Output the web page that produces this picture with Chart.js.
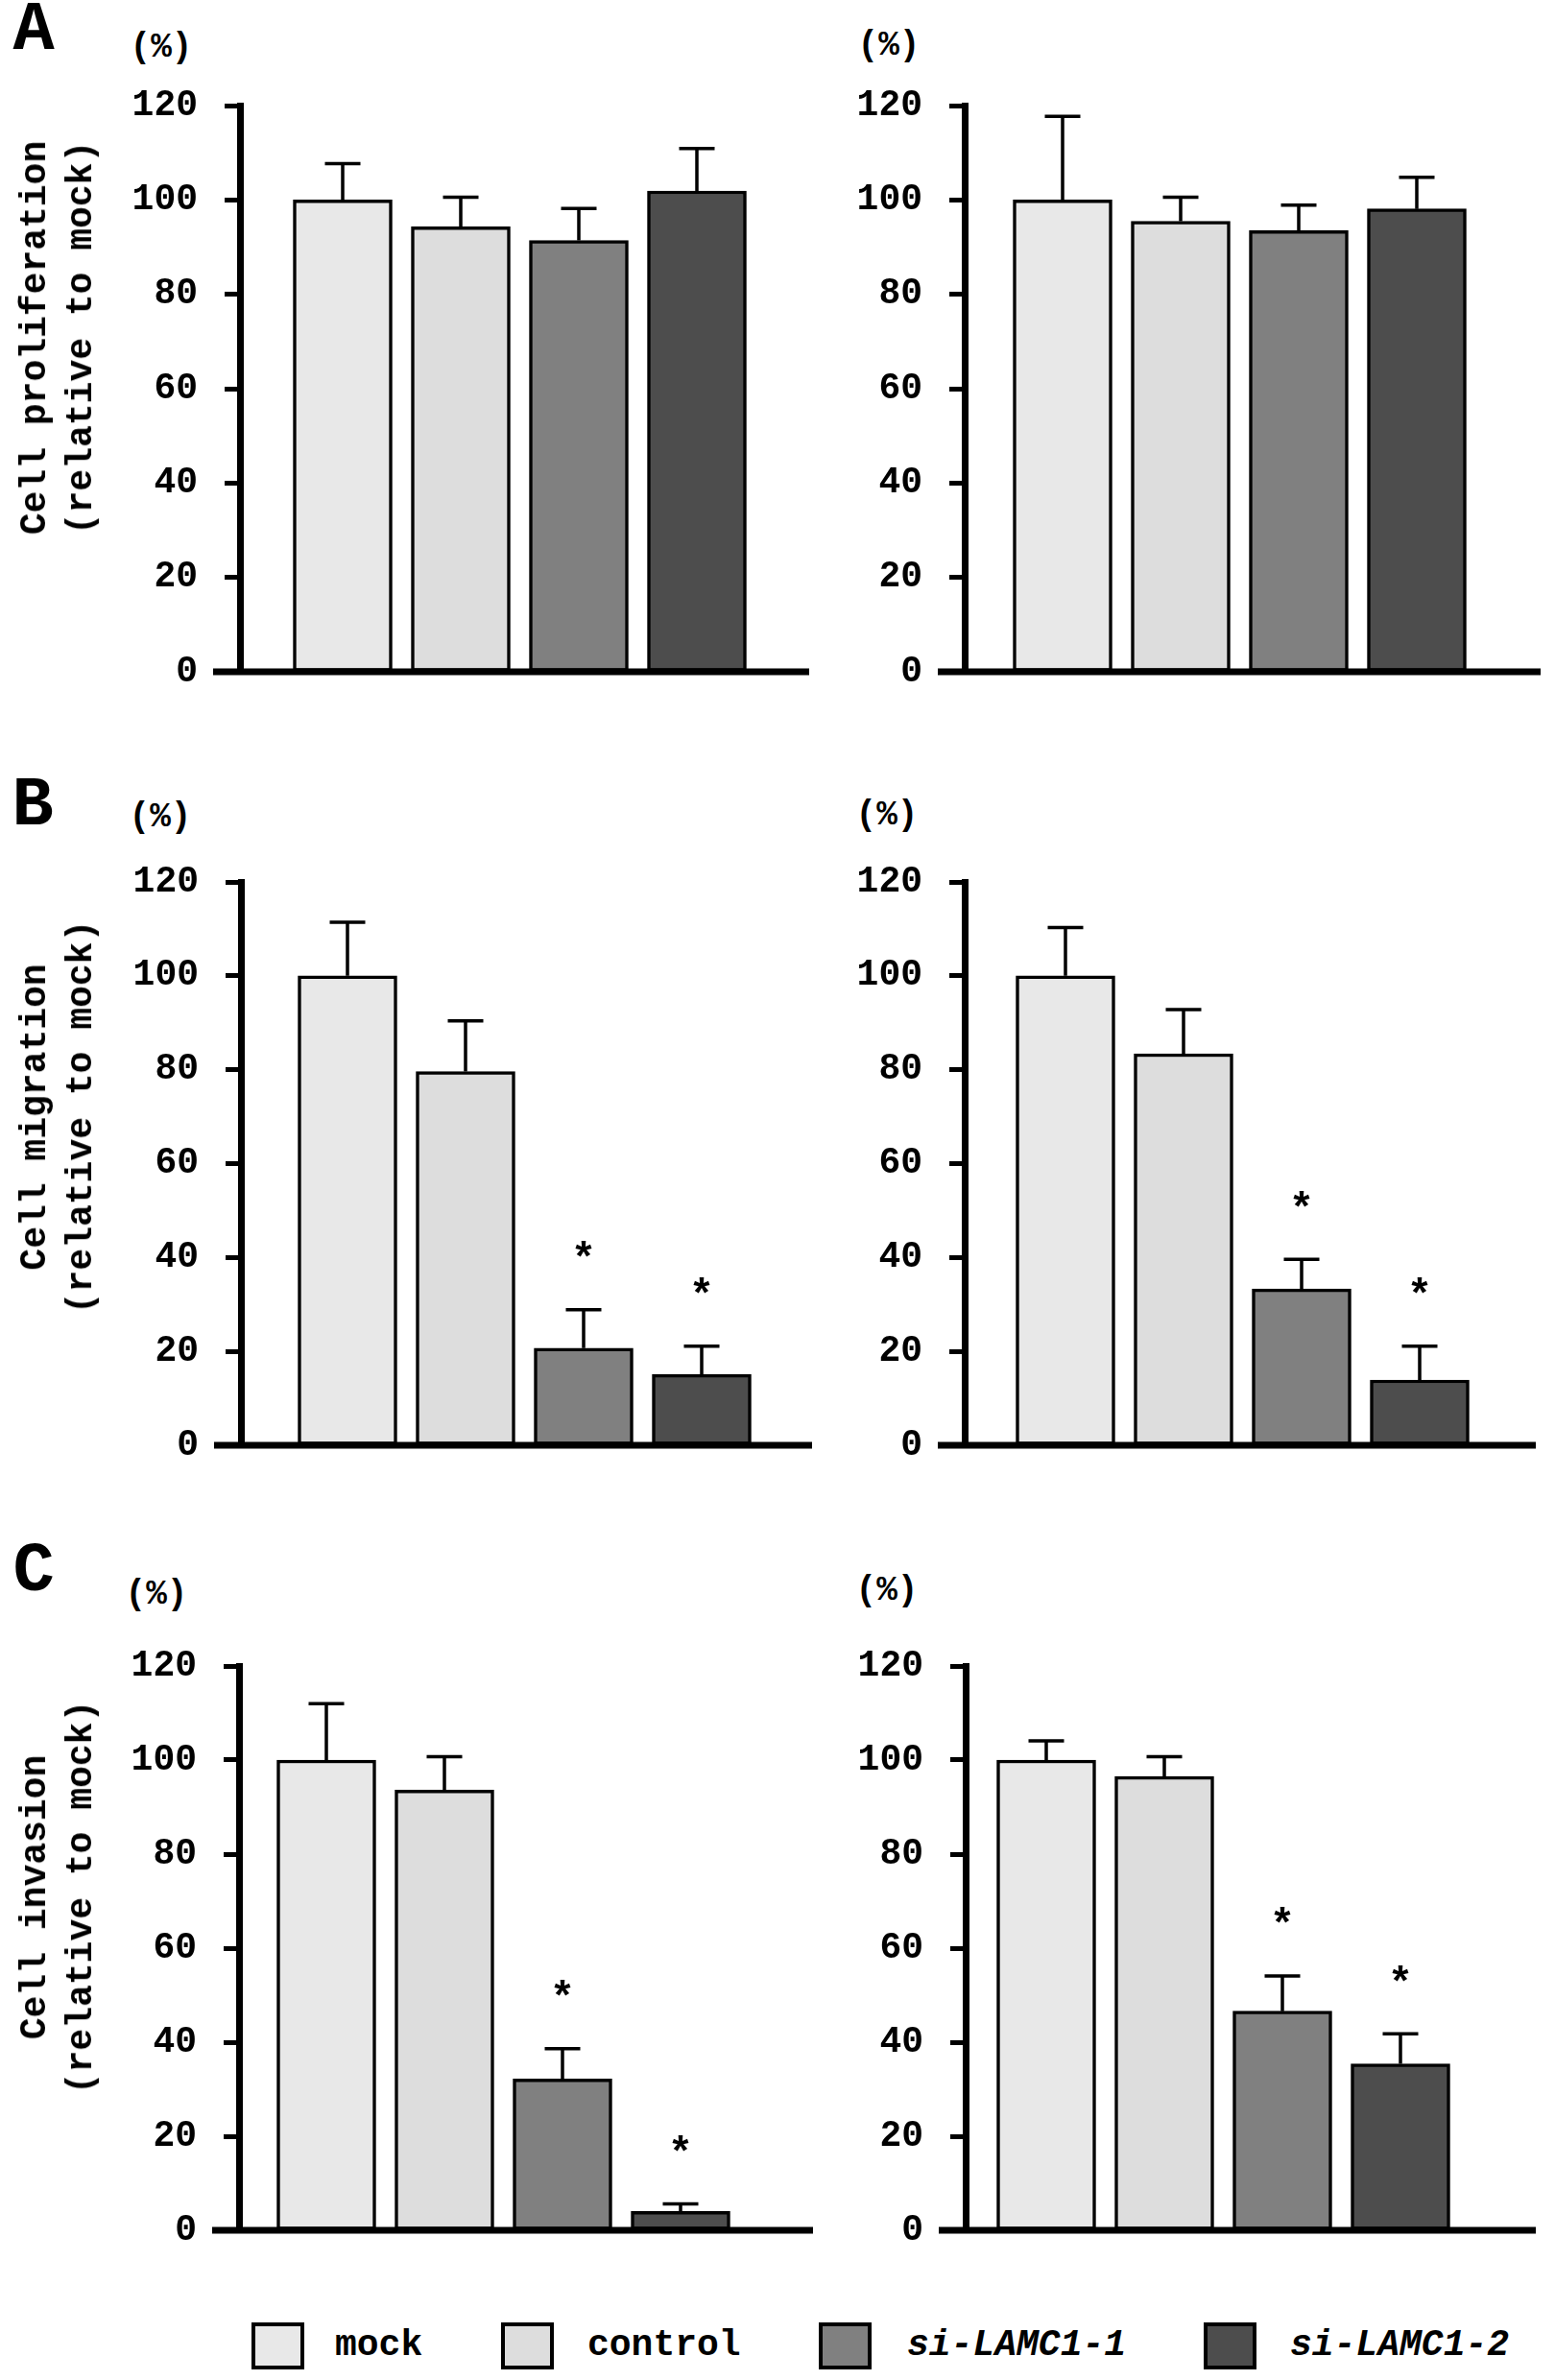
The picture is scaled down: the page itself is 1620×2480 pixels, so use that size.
<!DOCTYPE html>
<html>
<head>
<meta charset="utf-8">
<script src="https://cdn.jsdelivr.net/npm/chart.js@4.4.1/dist/chart.umd.min.js"></script>
<style>
  html, body { margin: 0; padding: 0; background: #fff; }
  body { width: 1620px; height: 2480px; position: relative; overflow: hidden;
         font-family: "Courier New", "Nimbus Mono PS", "FreeMono", "Liberation Mono", monospace; font-weight: bold; color: #000; }
  canvas { position: absolute; }
  .t { position: absolute; transform: translate(-50%, -50%); line-height: 1; white-space: nowrap; }
  .ytitle { position: absolute; transform: translate(-50%, -50%) rotate(-90deg); white-space: nowrap;
            text-align: center; font-size: 38px; line-height: 48px; }
  .box { position: absolute; box-sizing: border-box; border: 4px solid #000; }
</style>
</head>
<body>
<script>
// ---- data ----
const groups = ['mock', 'control', 'si-LAMC1-1', 'si-LAMC1-2'];
const groupColors = ['#e8e8e8', '#dddddd', '#808080', '#4d4d4d'];
const yMin = 0, yMax = 120, yStep = 20;

const prolifLeft = [100, 94.3, 91.4, 101.9];
const prolifLeftErr = [7.7, 6.3, 6.8, 9.0];
const prolifRight = [100, 95.5, 93.5, 98.1];
const prolifRightErr = [17.7, 5.1, 5.4, 6.7];

const migLeft = [100, 79.6, 20.7, 15.1];
const migLeftErr = [11.4, 10.8, 8.2, 6.0];
const migRight = [100, 83.4, 33.3, 13.9];
const migRightErr = [10.3, 9.4, 6.3, 7.2];

const invLeft = [100, 93.6, 32.2, 4.0];
const invLeftErr = [12.0, 7.1, 6.4, 1.6];
const invRight = [100, 96.5, 46.6, 35.4];
const invRightErr = [4.1, 4.2, 7.5, 6.4];

const noSig = [false, false, false, false];
const sig34 = [false, false, true, true];

// ---- layout ----
const fontStack = '"Courier New", "Nimbus Mono PS", "FreeMono", "Liberation Mono", monospace';
const slot = 123; // px per group
const panels = [
  { vals: prolifLeft,  errs: prolifLeftErr,  sig: noSig, axisX: 250,  right: 843,  top: 110,  bottom: 700,  c1: 357 },
  { vals: prolifRight, errs: prolifRightErr, sig: noSig, axisX: 1005, right: 1605, top: 110,  bottom: 700,  c1: 1107 },
  { vals: migLeft,     errs: migLeftErr,     sig: sig34, axisX: 251,  right: 846,  top: 919,  bottom: 1506, c1: 362 },
  { vals: migRight,    errs: migRightErr,    sig: sig34, axisX: 1005, right: 1600, top: 919,  bottom: 1506, c1: 1110 },
  { vals: invLeft,     errs: invLeftErr,     sig: sig34, axisX: 249,  right: 847,  top: 1736, bottom: 2324, c1: 340 },
  { vals: invRight,    errs: invRightErr,    sig: sig34, axisX: 1006, right: 1600, top: 1736, bottom: 2324, c1: 1090 },
];

Chart.defaults.font.family = fontStack;
Chart.defaults.font.weight = 'bold';
Chart.defaults.color = '#000';

const errorBars = {
  id: 'errorBars',
  afterDatasetsDraw(chart) {
    const { ctx, chartArea, scales: { y } } = chart;
    const ds = chart.data.datasets[0];
    const meta = chart.getDatasetMeta(0);
    ctx.save();
    ctx.strokeStyle = '#000';
    ctx.lineWidth = 3.5;
    meta.data.forEach((bar, i) => {
      const top = y.getPixelForValue(ds.data[i].y + ds.errors[i]);
      ctx.beginPath();
      ctx.moveTo(bar.x, bar.y);
      ctx.lineTo(bar.x, top);
      ctx.moveTo(bar.x - 18.5, top);
      ctx.lineTo(bar.x + 18.5, top);
      ctx.stroke();
      if (ds.sig[i]) {
        ctx.font = 'bold 44px ' + fontStack;
        ctx.textAlign = 'center';
        ctx.textBaseline = 'alphabetic';
        const m = ctx.measureText('*');
        const cy = top - 63;
        ctx.fillStyle = '#000';
        ctx.fillText('*', bar.x, cy + (m.actualBoundingBoxAscent - m.actualBoundingBoxDescent) / 2);
      }
    });
    // x axis line, running a little left of the y axis like the original
    const y0 = y.getPixelForValue(0);
    ctx.lineWidth = 7;
    ctx.beginPath();
    ctx.moveTo(chartArea.left - 28, y0);
    ctx.lineTo(chartArea.right, y0);
    ctx.stroke();
    ctx.restore();
  }
};

panels.forEach(p => {
  const left = p.axisX - 150;
  const top = p.top - 40;
  const w = p.right - left + 20;
  const h = p.bottom - p.top + 80;
  const cv = document.createElement('canvas');
  cv.width = w; cv.height = h;
  cv.style.left = left + 'px'; cv.style.top = top + 'px';
  cv.style.width = w + 'px'; cv.style.height = h + 'px';
  document.body.appendChild(cv);

  const xMin = 1 - (p.c1 - p.axisX) / slot;
  const xMax = xMin + (p.right - p.axisX) / slot;

  new Chart(cv, {
    type: 'bar',
    data: {
      datasets: [{
        data: groups.map((g, i) => ({ x: i + 1, y: p.vals[i] })),
        errors: p.errs,
        sig: p.sig,
        backgroundColor: groupColors,
        borderColor: '#000',
        borderWidth: 3.5,
        borderSkipped: false,
        barThickness: 103,
      }],
    },
    options: {
      responsive: false,
      animation: false,
      layout: { padding: { left: 20, right: 20, top: 40, bottom: 40 } },
      plugins: { legend: { display: false }, tooltip: { enabled: false } },
      scales: {
        x: { type: 'linear', min: xMin, max: xMax, offset: false, display: false },
        y: {
          min: yMin, max: yMax,
          afterFit(scale) { scale.width = 130; scale.paddingTop = 0; scale.paddingBottom = 0; },
          ticks: { stepSize: yStep, padding: 28, font: { size: 38, weight: 'bold' }, color: '#000' },
          grid: { drawOnChartArea: false, drawTicks: true, tickLength: 16, tickWidth: 5, tickColor: '#000', color: '#000' },
          border: { display: true, color: '#000', width: 7 },
        },
      },
    },
    plugins: [errorBars],
  });
});

// ---- text around the panels ----
function addText(txt, cx, cy, size, extra) {
  const d = document.createElement('div');
  d.className = 't';
  d.style.left = cx + 'px'; d.style.top = cy + 'px';
  d.style.fontSize = size + 'px';
  if (extra) Object.assign(d.style, extra);
  d.textContent = txt;
  document.body.appendChild(d);
  return d;
}

const panelLetters = [['A', 35, 32], ['B', 34, 840], ['C', 35, 1638]];
panelLetters.forEach(([l, x, y]) => addText(l, x, y, 72));

const unitMarks = [[168, 50], [926, 48], [167, 852], [924, 850], [163, 1662], [924, 1658]];
unitMarks.forEach(([x, y]) => addText('(%)', x, y, 36));

const yTitles = [
  ['Cell proliferation', 352],
  ['Cell migration', 1164],
  ['Cell invasion', 1977],
];
yTitles.forEach(([t, cy]) => {
  const d = document.createElement('div');
  d.className = 'ytitle';
  d.style.left = '61px'; d.style.top = cy + 'px';
  d.innerHTML = t + '<br>(relative to mock)';
  document.body.appendChild(d);
});

// legend
const legendBoxX = [262, 522, 853, 1254];
const legendTextX = [349, 612, 945, 1344];
groups.forEach((g, i) => {
  const b = document.createElement('div');
  b.className = 'box';
  Object.assign(b.style, { left: legendBoxX[i] + 'px', top: '2420px', width: '55px', height: '49px', background: groupColors[i] });
  document.body.appendChild(b);
  const d = addText(g, legendTextX[i], 2444, 38, { transform: 'translate(0, -50%)' });
  if (g.startsWith('si-')) d.style.fontStyle = 'italic';
});
</script>
</body>
</html>
